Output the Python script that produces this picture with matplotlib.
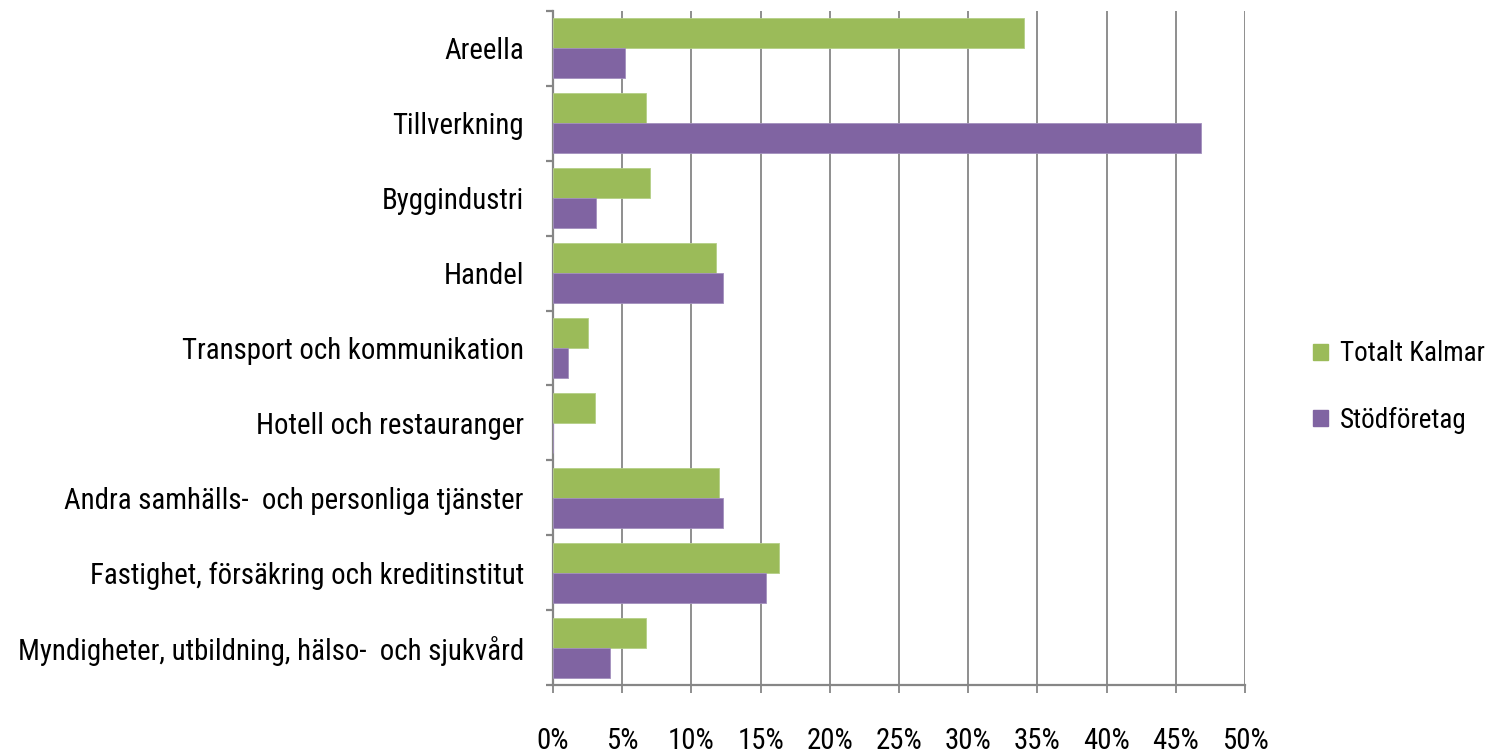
import matplotlib
matplotlib.use("Agg")
import matplotlib.pyplot as plt
from matplotlib.patches import Patch
from matplotlib.ticker import FixedLocator, PercentFormatter
import numpy as np

categories = [
    "Areella",
    "Tillverkning",
    "Byggindustri",
    "Handel",
    "Transport och kommunikation",
    "Hotell och restauranger",
    "Andra samhälls-  och personliga tjänster",
    "Fastighet, försäkring och kreditinstitut",
    "Myndigheter, utbildning, hälso-  och sjukvård",
]
totalt_kalmar = [34.0, 6.7, 7.0, 11.8, 2.5, 3.0, 12.0, 16.3, 6.7]
stodforetag = [5.2, 46.8, 3.1, 12.3, 1.1, 0.0, 12.3, 15.4, 4.1]
xticks = [0, 5, 10, 15, 20, 25, 30, 35, 40, 45, 50]
series_names = ["Totalt Kalmar", "Stödföretag"]
colors = ["#9BBB59", "#8064A2"]

plt.rcParams['font.family'] = ['Roboto Condensed', 'Lato', 'DejaVu Sans']

W, H = 1494, 755
fig = plt.figure(figsize=(W / 100, H / 100), dpi=100)
left, right, top, bottom = 553, 1245, 11, 685
ax = fig.add_axes([left / W, (H - bottom) / H, (right - left) / W, (bottom - top) / H])

y = np.arange(len(categories))
h = 0.40
ax.barh(y - h / 2, totalt_kalmar, height=h, color=colors[0], edgecolor="#b5cf86", linewidth=0.6, zorder=3)
ax.barh(y + h / 2, stodforetag, height=h, color=colors[1], edgecolor="#a390bd", linewidth=0.6, zorder=3)

ax.set_xlim(0, 50)
ax.set_ylim(len(categories) - 0.5, -0.5)
ax.set_xticks(xticks)
ax.xaxis.set_major_formatter(PercentFormatter(decimals=0))
ax.set_yticks(y)
ax.set_yticklabels(categories)
ax.yaxis.set_minor_locator(FixedLocator(np.arange(-0.5, len(categories) + 0.5, 1)))

gray = "#868686"
ax.grid(axis="x", color=gray, linewidth=1.3, zorder=0)
for s in ["top", "right"]:
    ax.spines[s].set_visible(False)
for s in ["left", "bottom"]:
    ax.spines[s].set_color(gray)
    ax.spines[s].set_linewidth(1.6)

fs = 20.8
ax.tick_params(axis="y", which="major", length=0, pad=21, labelsize=fs)
ax.tick_params(axis="y", which="minor", length=5, width=1.6, color=gray)
ax.tick_params(axis="x", which="major", length=6, width=1.3, color=gray, pad=24.5, labelsize=fs)

handles = [Patch(facecolor=c, edgecolor=c) for c in colors]
fig.legend(handles, series_names, loc="center left", bbox_to_anchor=(1313 / W, (H - 387) / H),
           frameon=False, fontsize=19.5, handlelength=0.55, handleheight=0.55, handletextpad=0.45,
           labelspacing=1.45, borderaxespad=0, borderpad=0)

fig.savefig("out.png", dpi=100)
